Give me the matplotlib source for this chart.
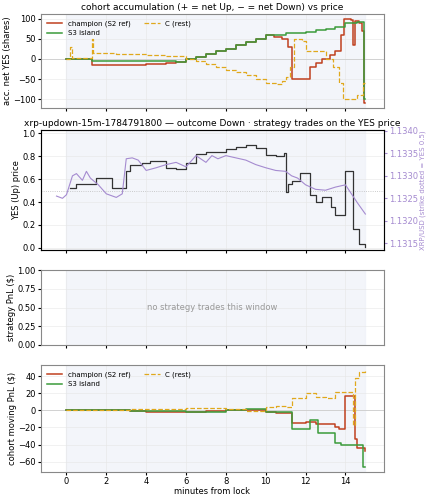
import matplotlib
matplotlib.use("Agg")
import matplotlib.pyplot as plt
import numpy as np

# cohort accumulation (minutes, shares)
champ_t = [0, 1.3, 3.0, 4.0, 5.0, 5.5, 6.0, 6.5, 7.0, 7.5, 8.0, 8.5, 9.0, 9.5, 10.0, 10.4, 10.8, 11.1, 11.3, 12.2, 12.5, 12.8, 13.2, 13.5, 13.8, 13.95, 14.3, 14.4, 14.5, 14.7, 14.85, 14.95, 15.0]
champ_v = [0, -15, -14, -12, -9, -7, -1, 5, 12, 19, 26, 34, 42, 50, 60, 55, 50, 30, -50, -20, -10, 0, 10, 20, 60, 100, 97, 35, 95, 90, 70, -110, -110]
s3_t = [0, 1.3, 4.0, 5.5, 6.0, 6.5, 7.0, 7.5, 8.0, 8.5, 9.0, 9.5, 10.0, 11.0, 12.0, 12.5, 13.0, 13.5, 14.0, 14.6, 14.95, 15.0]
s3_v = [0, -5, -6, -8, -1, 5, 12, 19, 26, 34, 42, 50, 60, 65, 68, 72, 75, 80, 90, 92, -100, -100]
c_t = [0, 0.2, 0.3, 1.3, 1.35, 2.5, 3.0, 4.0, 5.0, 6.0, 6.5, 7.0, 7.5, 8.0, 8.5, 9.0, 9.5, 10.0, 10.5, 10.8, 11.0, 11.2, 11.4, 11.8, 12.0, 12.6, 13.0, 13.4, 13.7, 13.9, 14.3, 14.6, 14.9, 15.0]
c_v = [0, 30, 2, 50, 15, 13, 12, 10, 7, 0, -6, -13, -20, -27, -33, -40, -50, -60, -62, -55, -45, -20, 50, 45, 20, 20, 0, -20, -60, -100, -100, -90, -60, -60]

# YES price and XRP
yes_t = [0.2, 0.5, 1.5, 2.3, 2.8, 3.0, 3.2, 3.8, 4.2, 5.0, 5.5, 6.0, 6.5, 7.0, 8.0, 8.5, 9.0, 9.5, 10.0, 10.5, 10.9, 11.0, 11.1, 11.3, 11.7, 12.2, 12.5, 12.8, 13.3, 13.5, 14.0, 14.4, 14.7, 15.0]
yes_v = [0.52, 0.56, 0.61, 0.52, 0.52, 0.67, 0.72, 0.74, 0.76, 0.70, 0.69, 0.74, 0.82, 0.84, 0.86, 0.88, 0.90, 0.87, 0.81, 0.80, 0.83, 0.49, 0.56, 0.58, 0.65, 0.46, 0.40, 0.44, 0.36, 0.29, 0.67, 0.16, 0.03, 0.01]
xrp_t = [-0.5, -0.2, 0.0, 0.3, 0.5, 0.8, 1.0, 1.2, 1.6, 2.0, 2.5, 2.8, 3.0, 3.3, 3.6, 4.0, 4.5, 5.0, 5.5, 6.0, 6.5, 7.0, 7.3, 7.6, 8.0, 8.5, 9.0, 9.5, 10.0, 10.5, 11.0, 11.3, 11.6, 12.0, 12.5, 13.0, 13.5, 14.0, 14.3, 14.6, 15.0]
xrp_v = [1.13255, 1.13250, 1.13258, 1.13300, 1.13305, 1.13290, 1.13310, 1.13295, 1.13280, 1.13260, 1.13252, 1.13260, 1.13338, 1.13340, 1.13335, 1.13312, 1.13318, 1.13325, 1.13330, 1.13320, 1.13345, 1.13330, 1.13345, 1.13338, 1.13345, 1.13340, 1.13335, 1.13325, 1.13318, 1.13312, 1.13310, 1.13300, 1.13295, 1.13280, 1.13270, 1.13268, 1.13275, 1.13280, 1.13260, 1.13240, 1.13215]

# cohort moving PnL
pc_t = [0, 3.2, 4.0, 6.0, 7.0, 8.0, 9.0, 10.0, 10.5, 11.3, 12.0, 12.5, 13.5, 13.7, 14.0, 14.5, 14.6, 15.0]
pc_v = [0, -1, -2, -2, -1, 1, 1, -2, -3, -15, -14, -16, -20, -22, 17, -33, -44, -47]
ps_t = [0, 3.2, 6.0, 8.0, 9.0, 10.0, 11.3, 12.2, 12.6, 13.3, 13.5, 13.8, 14.9, 15.0]
ps_v = [0, -1, -2, 1, 2, -2, -22, -11, -27, -26, -38, -41, -66, -66]
pr_t = [0, 3.2, 6.0, 8.0, 9.0, 10.0, 10.5, 11.0, 11.3, 12.0, 12.5, 13.0, 13.5, 14.0, 14.4, 14.5, 14.7, 15.0]
pr_v = [0, 2, 3, 2, -1, 4, 5, 4, 15, 20, 16, 15, 22, 21, -17, 38, 45, 47]

RED, GREEN, GOLD, PURP = "#c0401f", "#3b9b3b", "#e0a81c", "#a58bd0"
FS = 6

fig = plt.figure(figsize=(4.27, 5.0), dpi=100)
L, W = 0.095, 0.805
ax1 = fig.add_axes([L, 0.784, W, 0.188])
ax2 = fig.add_axes([L, 0.500, W, 0.240])
ax3 = fig.add_axes([L, 0.310, W, 0.150])
ax4 = fig.add_axes([L, 0.056, W, 0.214])
axes = [ax1, ax2, ax3, ax4]
for ax in axes:
    ax.set_xlim(-1.3, 15.95)
    ax.axvspan(0, 15, color="#eef1f8", alpha=0.7, zorder=0)
    ax.tick_params(labelsize=FS, length=2, pad=1.5)
    ax.grid(True, color="#e6e6e6", lw=0.4)
    ax.set_xticks([0, 2, 4, 6, 8, 10, 12, 14])
    for s in ax.spines.values():
        s.set_color("#888888")
    if ax is not ax4:
        ax.tick_params(labelbottom=False)

ax1.axhline(0, color="#cccccc", lw=0.6)
ax1.plot(champ_t, champ_v, drawstyle="steps-post", color=RED, lw=1.1, label="champion (S2 ref)")
ax1.plot(s3_t, s3_v, drawstyle="steps-post", color=GREEN, lw=1.1, label="S3 island")
ax1.plot(c_t, c_v, drawstyle="steps-post", color=GOLD, lw=0.9, ls="--", label="C (rest)")
ax1.set_ylim(-122, 112)
ax1.set_yticks([-100, -50, 0, 50, 100])
ax1.set_ylabel("acc. net YES (shares)", fontsize=FS, labelpad=1)
ax1.set_title("cohort accumulation (+ = net Up, − = net Down) vs price", fontsize=6.5, pad=3)
ax1.legend(fontsize=5, ncol=2, loc="upper left", frameon=False, handlelength=2.2)

ax2.axhline(0.5, color="#bbbbbb", lw=0.6, ls=":")
ax2.plot(yes_t, yes_v, drawstyle="steps-post", color="#333333", lw=0.9)
ax2.set_ylim(-0.02, 1.03)
ax2.set_yticks([0, 0.2, 0.4, 0.6, 0.8, 1.0])
ax2.set_ylabel("YES (Up) price", fontsize=FS, labelpad=1)
ax2.set_title("xrp-updown-15m-1784791800 — outcome Down · strategy trades on the YES price", fontsize=6.5, pad=3)
tw = ax2.twinx()
tw.plot(xrp_t, xrp_v, color=PURP, lw=0.8)
tw.set_ylim(1.13135, 1.13402)
tw.set_yticks([1.1315, 1.1320, 1.1325, 1.1330, 1.1335, 1.1340])
tw.set_yticklabels(["1.1315", "1.1320", "1.1325", "1.1330", "1.1335", "1.1340"])
tw.tick_params(labelsize=FS, colors=PURP, length=2, pad=1.5)
tw.set_ylabel("XRP/USD (strike dotted = YES 0.5)", fontsize=5, color=PURP, labelpad=1)

ax3.set_ylim(0, 1)
ax3.set_ylabel("strategy PnL ($)", fontsize=FS, labelpad=1)
ax3.text(0.5, 0.5, "no strategy trades this window", transform=ax3.transAxes,
         ha="center", va="center", fontsize=6, color="#999999")

ax4.axhline(0, color="#cccccc", lw=0.6)
ax4.plot(pc_t, pc_v, drawstyle="steps-post", color=RED, lw=1.1, label="champion (S2 ref)")
ax4.plot(ps_t, ps_v, drawstyle="steps-post", color=GREEN, lw=1.1, label="S3 island")
ax4.plot(pr_t, pr_v, drawstyle="steps-post", color=GOLD, lw=0.9, ls="--", label="C (rest)")
ax4.set_ylim(-72, 53)
ax4.set_yticks([-60, -40, -20, 0, 20, 40])
ax4.set_ylabel("cohort moving PnL ($)", fontsize=FS, labelpad=1)
ax4.set_xlabel("minutes from lock", fontsize=FS, labelpad=1)
ax4.legend(fontsize=5, ncol=2, loc="upper left", frameon=False, handlelength=2.2)

fig.savefig("out.png", dpi=100)
